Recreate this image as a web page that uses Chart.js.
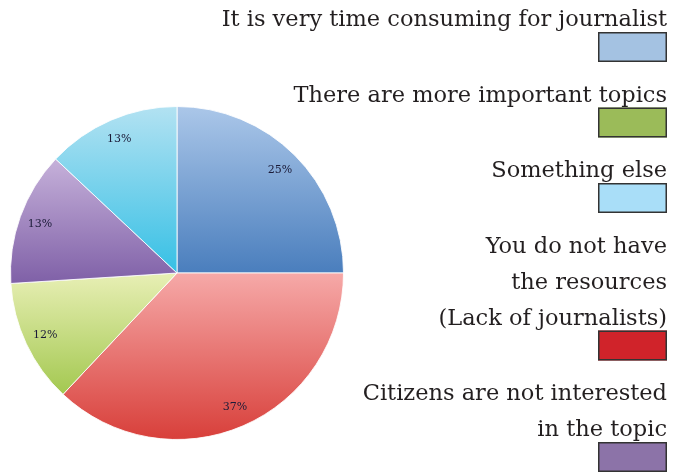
<!DOCTYPE html>
<html>
<head>
  <meta charset="utf-8">
  <title>Reasons</title>
  <script src="https://cdn.jsdelivr.net/npm/chart.js@4.4.1/dist/chart.umd.min.js"></script>
  <style>
    html, body { margin: 0; padding: 0; background: #fff; }
  </style>
</head>
<body>
<canvas id="pie-chart" width="675" height="476"></canvas>
<script>
// answers, in the order the slices run clockwise from 12 o'clock
var reasons = [
  "It is very time consuming for journalist",
  ["You do not have", "the resources", "(Lack of journalists)"],
  "There are more important topics",
  ["Citizens are not interested", "in the topic"],
  "Something else"
];
var shares = [25, 37, 12, 13, 13];
// order of the entries in the key on the right
var keyOrder = [0, 2, 4, 1, 3];

// slice shading, light at the top of each slice to dark at the bottom
var topColors = ["#abc7e9", "#f6a9a8", "#e8efb5", "#c6b1da", "#b3e2f2"];
var bottomColors = ["#4a7ebd", "#d83f3a", "#a3c850", "#7f60a7", "#36c0e5"];
var keyColors = ["#a4c2e2", "#d0232a", "#9bbb59", "#8c73a8", "#a9def8"];

var FONT = '"DejaVu Serif", serif';

function sliceFill(context) {
  var chart = context.chart, area = chart.chartArea;
  var i = context.dataIndex;
  if (!area) return bottomColors[i];
  var cx = (area.left + area.right) / 2, cy = (area.top + area.bottom) / 2;
  var r = Math.min(area.width, area.height) / 2;
  var total = 0, before = 0;
  shares.forEach(function (v, k) { total += v; if (k < i) before += v; });
  var a0 = -Math.PI / 2 + 2 * Math.PI * before / total;
  var a1 = a0 + 2 * Math.PI * shares[i] / total;
  var ys = [cy, cy + r * Math.sin(a0), cy + r * Math.sin(a1)];
  if (a0 <= Math.PI / 2 && a1 >= Math.PI / 2) ys.push(cy + r);
  var g = chart.ctx.createLinearGradient(0, Math.min.apply(null, ys), 0, Math.max.apply(null, ys));
  g.addColorStop(0, topColors[i]);
  g.addColorStop(1, bottomColors[i]);
  return g;
}

// percentage written inside each slice
var sliceLabels = {
  id: 'sliceLabels',
  afterDatasetsDraw: function (chart) {
    var ctx = chart.ctx;
    ctx.save();
    ctx.font = '11px ' + FONT;
    ctx.fillStyle = '#1b1b38';
    ctx.textAlign = 'center';
    ctx.textBaseline = 'middle';
    chart.getDatasetMeta(0).data.forEach(function (arc, i) {
      var p = arc.getProps(['x', 'y', 'startAngle', 'endAngle', 'outerRadius'], true);
      var mid = (p.startAngle + p.endAngle) / 2;
      var d = p.outerRadius * 0.875;
      ctx.fillText(shares[i] + '%', p.x + Math.cos(mid) * d, p.y + Math.sin(mid) * d);
    });
    ctx.restore();
  }
};

// key: right aligned text with a colour box under each entry
var sideKey = {
  id: 'sideKey',
  afterDraw: function (chart) {
    var ctx = chart.ctx;
    var right = 667, boxW = 69, boxH = 30, y = 26;
    ctx.save();
    ctx.font = '22.5px ' + FONT;
    ctx.textAlign = 'right';
    ctx.textBaseline = 'alphabetic';
    keyOrder.forEach(function (i) {
      [].concat(reasons[i]).forEach(function (line, k) {
        if (k > 0) y += 36;
        ctx.fillStyle = '#231f20';
        ctx.fillText(line, right, y);
      });
      var top = y + 6;
      ctx.fillStyle = keyColors[i];
      ctx.fillRect(right - boxW, top, boxW, boxH);
      ctx.lineWidth = 1.5;
      ctx.strokeStyle = '#333333';
      ctx.strokeRect(right - boxW + 0.75, top + 0.75, boxW - 1.5, boxH - 1.5);
      y = top + boxH + 39.5;
    });
    ctx.restore();
  }
};

new Chart(document.getElementById('pie-chart'), {
  type: 'pie',
  data: {
    labels: reasons,
    datasets: [{
      data: shares,
      backgroundColor: sliceFill,
      borderColor: 'rgba(255,255,255,0.85)',
      borderWidth: 1
    }]
  },
  options: {
    responsive: false,
    animation: false,
    layout: { padding: { left: 10, right: 331, top: 106, bottom: 36 } },
    plugins: {
      legend: { display: false },
      tooltip: { enabled: false }
    }
  },
  plugins: [sliceLabels, sideKey]
});
</script>
</body>
</html>
